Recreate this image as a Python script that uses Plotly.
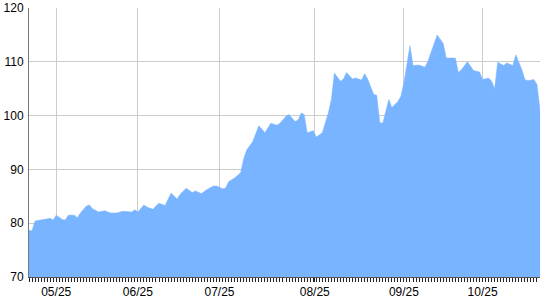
import plotly.graph_objects as go

# day index (one tick per day) and values
day = [0, 1, 2, 4, 6, 7, 8, 9, 11, 12, 13, 15, 16, 17, 19, 20, 21, 23, 25, 27, 29, 31, 34, 35, 36,
       38, 39, 41, 42, 43, 45, 47, 49, 50, 52, 54, 55, 57, 59, 61, 62, 64, 65, 66, 68, 70, 71, 72,
       74, 76, 77, 78, 80, 82, 83, 85, 86, 88, 89, 90, 91, 92, 94, 95, 97, 99, 100, 101, 103, 104,
       105, 107, 108, 110, 111, 112, 114, 115, 116, 117, 119, 120, 122, 123, 124, 126, 127, 129,
       131, 132, 134, 135, 137, 138, 141, 142, 143, 145, 146, 147, 149, 150, 152, 153, 154, 155,
       157, 158, 160, 161, 163, 164, 165, 167, 168, 169]
value = [78.7, 78.6, 80.4, 80.6, 80.9, 80.9, 80.6, 81.5, 80.7, 80.6, 81.5, 81.5, 81.0, 81.9, 83.2,
         83.4, 82.7, 82.1, 82.3, 81.9, 81.9, 82.2, 82.1, 82.5, 82.1, 83.4, 83.0, 82.6, 83.2, 83.7,
         83.3, 85.6, 84.5, 85.4, 86.5, 85.7, 86.0, 85.5, 86.3, 86.9, 86.9, 86.4, 86.5, 87.7, 88.4,
         89.4, 92.0, 93.6, 95.2, 98.1, 97.5, 96.8, 98.6, 98.2, 98.6, 99.9, 100.2, 98.9, 99.2, 100.5,
         100.2, 96.8, 97.2, 96.0, 96.8, 100.5, 103.0, 107.9, 106.4, 106.8, 108.0, 106.8, 107.0,
         106.6, 107.8, 106.8, 103.9, 103.8, 98.7, 98.6, 103.0, 101.5, 102.6, 103.6, 106.1, 113.0,
         109.3, 109.4, 109.0, 110.2, 113.4, 115.0, 113.4, 110.7, 110.7, 108.0, 108.5, 110.0, 109.2,
         108.4, 108.1, 106.7, 107.0, 106.4, 105.0, 109.9, 109.3, 109.8, 109.3, 111.3, 108.5, 106.7,
         106.5, 106.7, 105.8, 101.1]

tick_pos = [9, 36, 63, 94.5, 124, 150]
tick_text = ["05/25", "06/25", "07/25", "08/25", "09/25", "10/25"]
y_ticks = [70, 80, 90, 100, 110, 120]

fill_color = "#78b4ff"

fig = go.Figure(go.Scatter(
    x=day, y=value, mode="lines", fill="tozeroy",
    fillcolor=fill_color, line=dict(color=fill_color, width=0.5),
    hoverinfo="x+y"))

fig.update_layout(
    width=540, height=300,
    margin=dict(l=29, r=0, t=8, b=23),
    plot_bgcolor="white", paper_bgcolor="white",
    showlegend=False,
    font=dict(family="Liberation Sans, Arial, sans-serif", size=12, color="#000000"),
    xaxis=dict(
        range=[0, 169], tickvals=tick_pos, ticktext=tick_text,
        showgrid=True, gridcolor="#cccccc", gridwidth=1,
        showline=True, linecolor="#555555", linewidth=1,
        ticks="outside", ticklen=4, tickcolor="#222222", tickwidth=1,
        minor=dict(ticks="outside", dtick=1, tick0=0, ticklen=4, tickcolor="#222222",
                   tickwidth=1, showgrid=False),
        zeroline=False, fixedrange=True),
    yaxis=dict(
        range=[70, 120], tickvals=y_ticks,
        showgrid=True, gridcolor="#cccccc", gridwidth=1,
        showline=True, linecolor="#777777", linewidth=1,
        ticks="", zeroline=False, fixedrange=True, ticklabelstandoff=2),
)

fig.write_html("out.html")
